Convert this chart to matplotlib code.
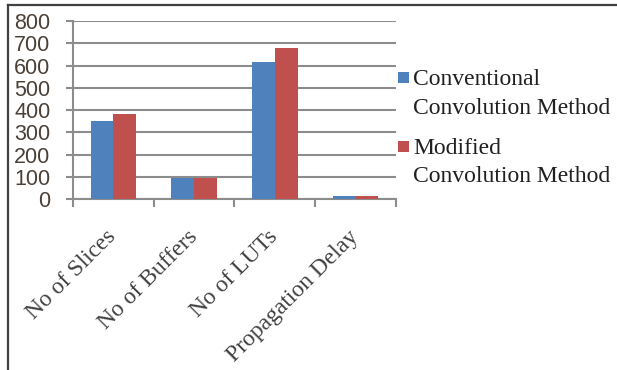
import matplotlib
matplotlib.use("Agg")
from matplotlib import pyplot as plt
from matplotlib.lines import Line2D
from matplotlib.patches import Rectangle
import numpy as np

categories = ["No of Slices", "No of Buffers", "No of LUTs", "Propagation Delay"]
conventional = [350, 96, 614, 12]
modified = [381, 96, 677, 12]
series_names = [["Conventional", "Convolution Method"], ["Modified", "Convolution Method"]]

blue = "#4f81bd"
red = "#c0504d"
grid_gray = "#8c8c8c"
text_dark = "#404040"
serif = ["Liberation Serif", "DejaVu Serif"]

W, H = 617, 370
fig = plt.figure(figsize=(W / 100, H / 100), dpi=100)
ax = fig.add_axes([0.118, 0.462, 0.524, 0.481])

x = np.arange(len(categories))
w = 0.28
ax.bar(x - w / 2, conventional, w, color=blue, zorder=3)
ax.bar(x + w / 2, modified, w, color=red, zorder=3)

ax.set_xlim(-0.5, len(categories) - 0.5)
ax.set_ylim(0, 800)
ax.set_yticks(range(0, 801, 100))
ax.yaxis.grid(True, color=grid_gray, linewidth=1.5, zorder=0)
ax.set_axisbelow(True)

for side in ["top", "right"]:
    ax.spines[side].set_visible(False)
for side in ["left", "bottom"]:
    ax.spines[side].set_color(grid_gray)
    ax.spines[side].set_linewidth(1.5)

# category separators as minor ticks, labels on the major ones
ax.set_xticks(x)
ax.set_xticks(np.arange(-0.5, len(categories)), minor=True)
ax.tick_params(axis="x", which="major", length=0, pad=25)
ax.tick_params(axis="x", which="minor", length=6, width=1.5, color=grid_gray)
ax.set_xticklabels(categories, rotation=45, ha="right", va="center",
                   rotation_mode="anchor", fontsize=17, color=text_dark,
                   family=serif)
ax.tick_params(axis="y", length=5, width=1.5, color=grid_gray, pad=11)
for lbl in ax.get_yticklabels():
    lbl.set_fontsize(15.5)
    lbl.set_color("#4a4038")
    lbl.set_family(["Liberation Sans", "DejaVu Sans"])

# legend: square key beside the first line of each two-line name
def px(xp, yp):
    return xp / W, 1 - yp / H

for color, lines, top in [(blue, series_names[0], 72), (red, series_names[1], 141)]:
    x0, y0 = px(398, top + 11)
    fig.add_artist(Rectangle((x0, y0), 11 / W, 11 / H, transform=fig.transFigure,
                             facecolor=color, edgecolor="none"))
    for i, line in enumerate(lines):
        tx, ty = px(413, top + 13 + 28.5 * i)
        fig.text(tx, ty, line, fontsize=17, family=serif, color="#202020",
                 va="baseline", ha="left")

# outer frame lines
fig.add_artist(Line2D([8 / W, 8 / W], [0, 1 - 5 / H], transform=fig.transFigure,
                      color="#404040", linewidth=1.6))
fig.add_artist(Line2D([8 / W, 1], [1 - 5 / H, 1 - 5 / H], transform=fig.transFigure,
                      color="#404040", linewidth=1.6))

fig.savefig("out.png", dpi=100)
